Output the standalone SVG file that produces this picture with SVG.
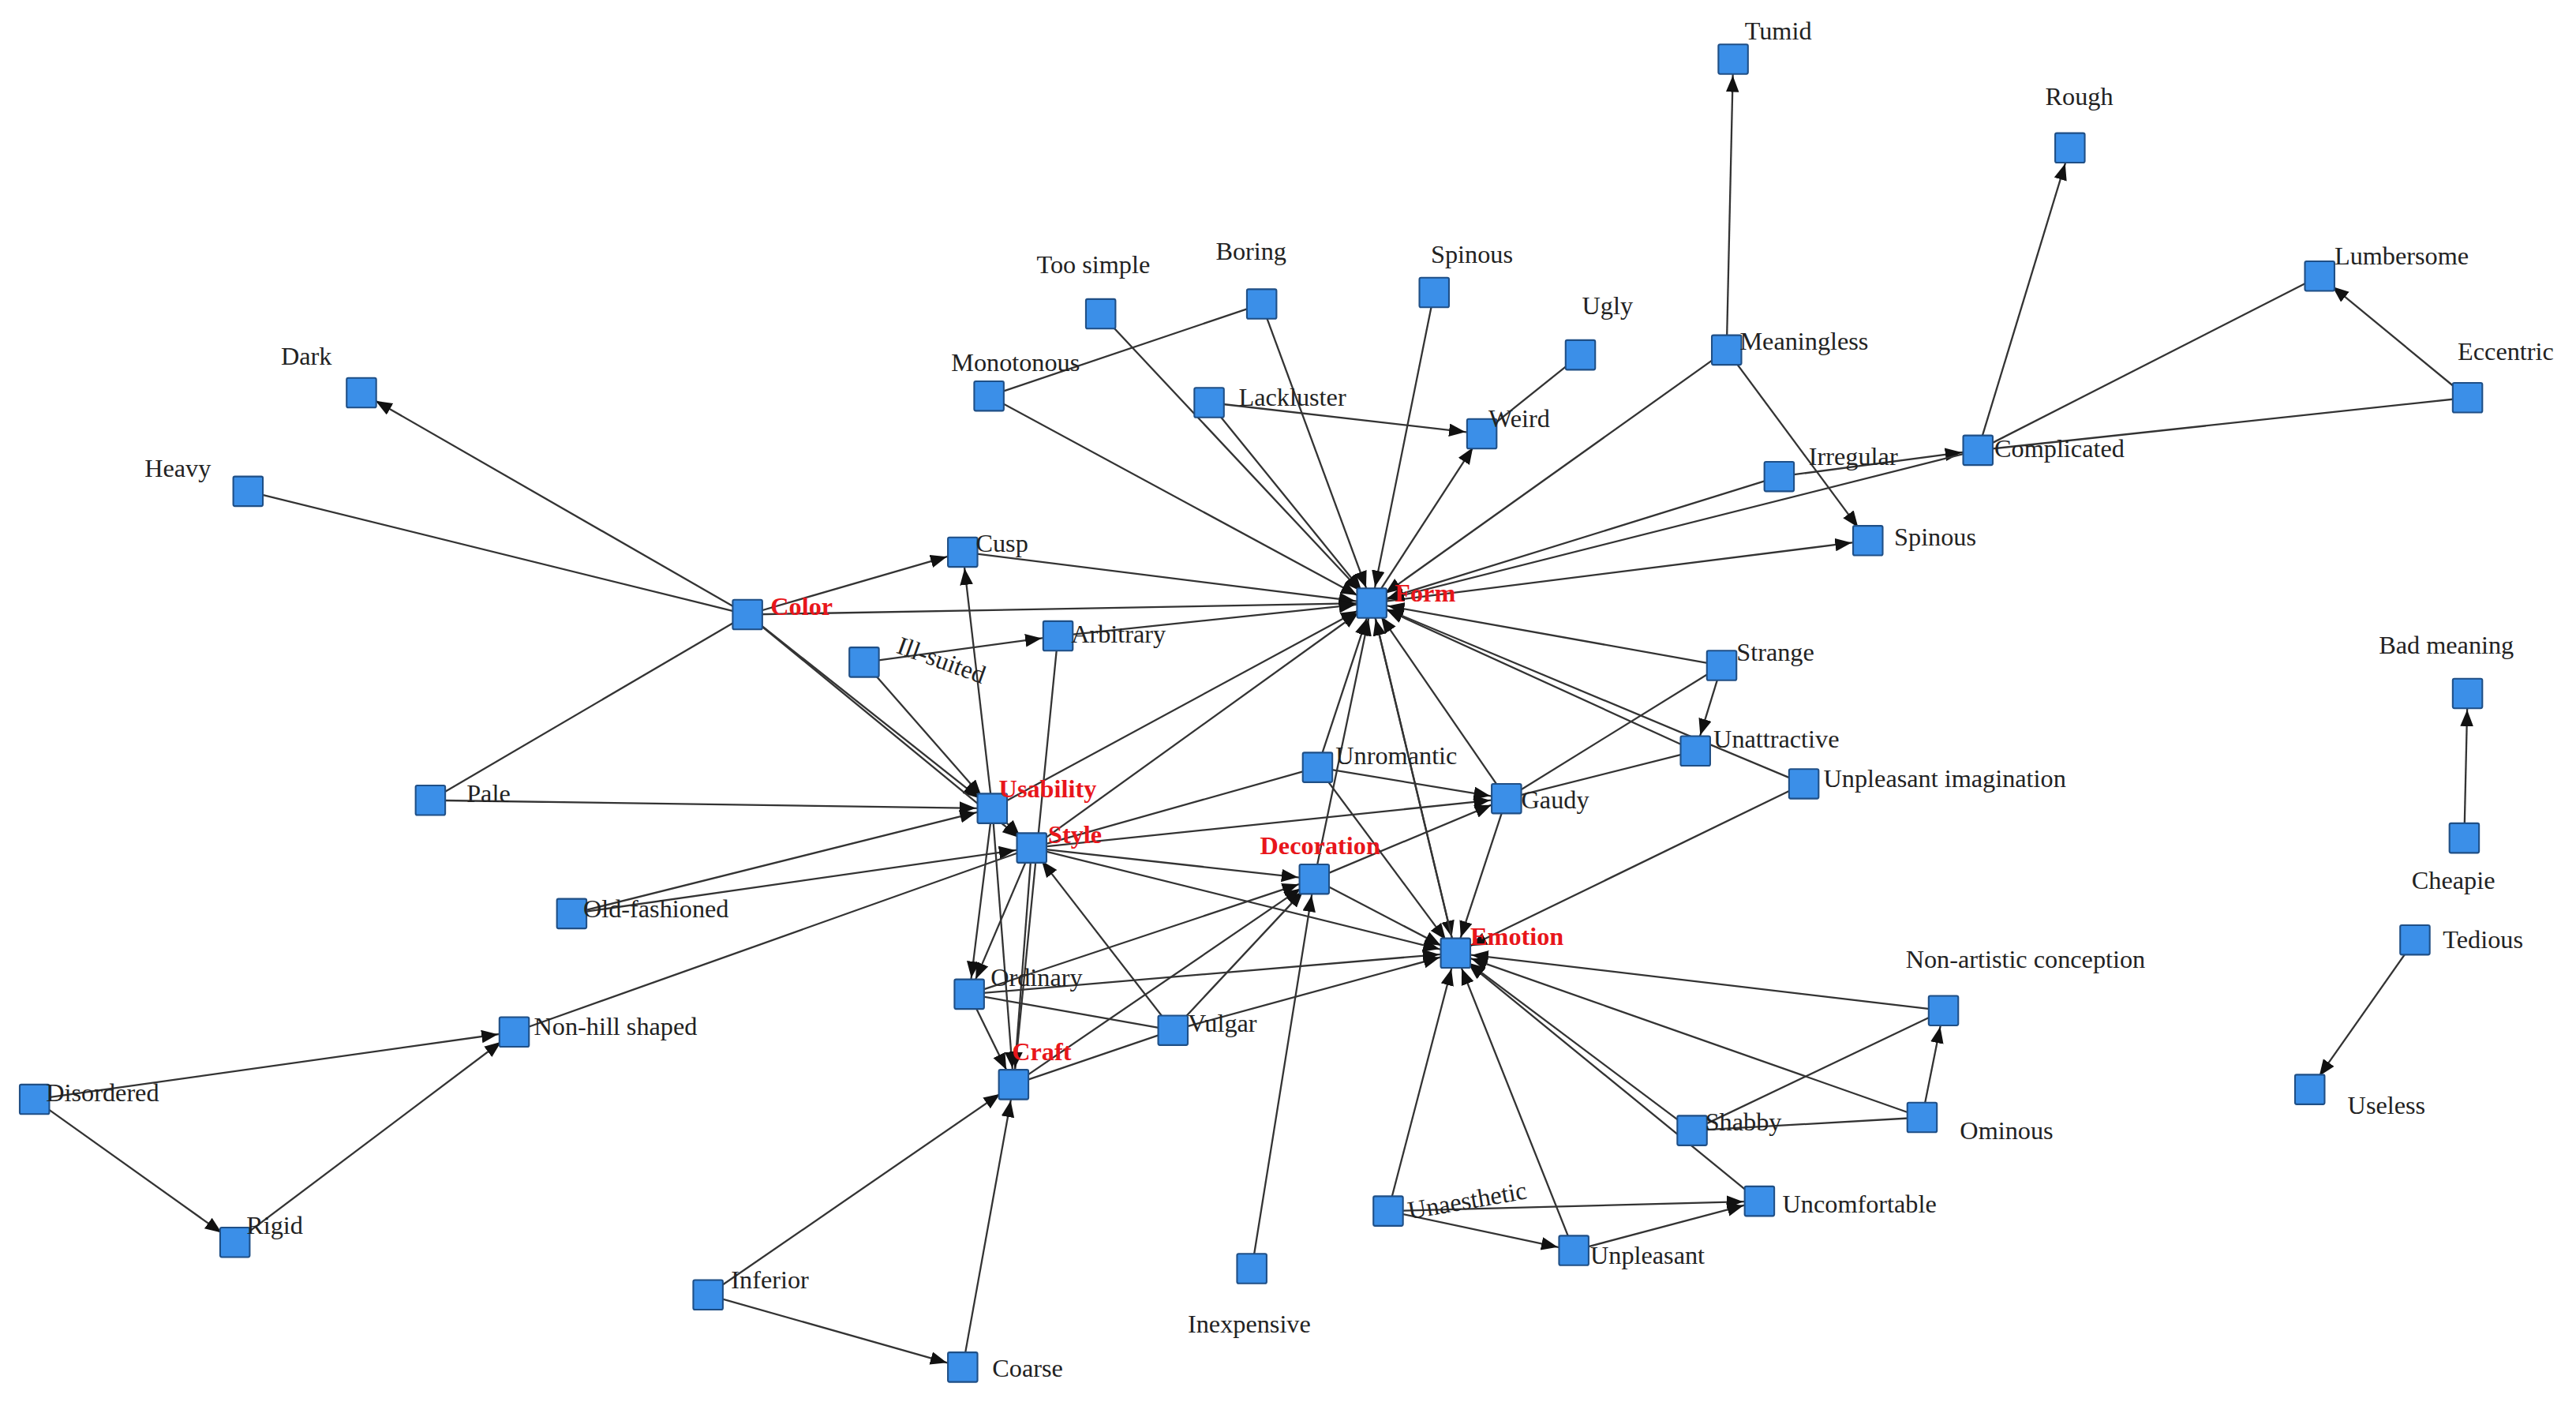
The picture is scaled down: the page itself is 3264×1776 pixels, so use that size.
<svg xmlns="http://www.w3.org/2000/svg" width="3264" height="1776" viewBox="0 0 3264 1776">
<style>
.n use{fill:#3b8fe8;stroke:#1f4f86;stroke-width:1}
text{font-family:"Liberation Serif",serif;font-size:15.5px;fill:#222}
text.r{fill:#e8161b;font-weight:bold}
#edges line{stroke:#333;stroke-width:1.1}
#edges line.a{marker-end:url(#ar)}
</style>
<defs>
<marker id="ar" markerUnits="userSpaceOnUse" markerWidth="22" markerHeight="10" refX="20" refY="4" orient="auto"><path d="M0,0 L10,4 L0,8 z" fill="#111"/></marker>
<rect id="sq" x="-9" y="-9" width="18" height="18" rx="1"/>
</defs>
<rect width="3264" height="1776" fill="#fff"/>
<g transform="scale(2.0816)">
<g id="edges">
<line class="a" x1="1051" y1="213" x2="1055" y2="36"/>
<line class="a" x1="1204" y1="274" x2="1260" y2="90"/>
<line class="a" x1="1502" y1="242" x2="1412" y2="168"/>
<line x1="1204" y1="274" x2="1412" y2="168"/>
<line x1="1204" y1="274" x2="1502" y2="242"/>
<line class="a" x1="1083" y1="290" x2="1204" y2="274"/>
<line class="a" x1="1051" y1="213" x2="1137" y2="329"/>
<line class="a" x1="1051" y1="213" x2="835" y2="367"/>
<line class="a" x1="835" y1="367" x2="1137" y2="329"/>
<line class="a" x1="1083" y1="290" x2="835" y2="367"/>
<line class="a" x1="1204" y1="274" x2="835" y2="367"/>
<line class="a" x1="670" y1="191" x2="835" y2="367"/>
<line class="a" x1="768" y1="185" x2="835" y2="367"/>
<line x1="768" y1="185" x2="602" y2="241"/>
<line class="a" x1="602" y1="241" x2="835" y2="367"/>
<line class="a" x1="736" y1="245" x2="902" y2="264"/>
<line class="a" x1="736" y1="245" x2="835" y2="367"/>
<line class="a" x1="873" y1="178" x2="835" y2="367"/>
<line x1="962" y1="216" x2="902" y2="264"/>
<line class="a" x1="835" y1="367" x2="902" y2="264"/>
<line class="a" x1="455" y1="374" x2="220" y2="239"/>
<line x1="151" y1="299" x2="455" y2="374"/>
<line x1="455" y1="374" x2="262" y2="487"/>
<line class="a" x1="455" y1="374" x2="586" y2="336"/>
<line class="a" x1="455" y1="374" x2="835" y2="367"/>
<line class="a" x1="455" y1="374" x2="604" y2="492"/>
<line class="a" x1="455" y1="374" x2="628" y2="516"/>
<line class="a" x1="586" y1="336" x2="835" y2="367"/>
<line class="a" x1="604" y1="492" x2="586" y2="336"/>
<line class="a" x1="644" y1="387" x2="835" y2="367"/>
<line class="a" x1="526" y1="403" x2="644" y2="387"/>
<line class="a" x1="526" y1="403" x2="604" y2="492"/>
<line x1="644" y1="387" x2="617" y2="660"/>
<line class="a" x1="262" y1="487" x2="604" y2="492"/>
<line class="a" x1="348" y1="556" x2="604" y2="492"/>
<line class="a" x1="348" y1="556" x2="628" y2="516"/>
<line x1="313" y1="628" x2="628" y2="516"/>
<line class="a" x1="21" y1="669" x2="313" y2="628"/>
<line class="a" x1="21" y1="669" x2="143" y2="756"/>
<line class="a" x1="143" y1="756" x2="313" y2="628"/>
<line class="a" x1="604" y1="492" x2="835" y2="367"/>
<line class="a" x1="628" y1="516" x2="835" y2="367"/>
<line class="a" x1="604" y1="492" x2="628" y2="516"/>
<line class="a" x1="604" y1="492" x2="590" y2="605"/>
<line class="a" x1="604" y1="492" x2="617" y2="660"/>
<line class="a" x1="628" y1="516" x2="617" y2="660"/>
<line class="a" x1="628" y1="516" x2="590" y2="605"/>
<line class="a" x1="628" y1="516" x2="800" y2="535"/>
<line class="a" x1="628" y1="516" x2="886" y2="580"/>
<line class="a" x1="628" y1="516" x2="917" y2="486"/>
<line x1="628" y1="516" x2="802" y2="467"/>
<line class="a" x1="714" y1="627" x2="628" y2="516"/>
<line class="a" x1="714" y1="627" x2="886" y2="580"/>
<line x1="617" y1="660" x2="714" y2="627"/>
<line class="a" x1="714" y1="627" x2="800" y2="535"/>
<line class="a" x1="590" y1="605" x2="800" y2="535"/>
<line class="a" x1="590" y1="605" x2="886" y2="580"/>
<line x1="590" y1="605" x2="714" y2="627"/>
<line class="a" x1="590" y1="605" x2="617" y2="660"/>
<line class="a" x1="431" y1="788" x2="617" y2="660"/>
<line class="a" x1="431" y1="788" x2="586" y2="832"/>
<line class="a" x1="586" y1="832" x2="617" y2="660"/>
<line class="a" x1="617" y1="660" x2="800" y2="535"/>
<line class="a" x1="802" y1="467" x2="835" y2="367"/>
<line class="a" x1="802" y1="467" x2="917" y2="486"/>
<line class="a" x1="802" y1="467" x2="886" y2="580"/>
<line class="a" x1="800" y1="535" x2="835" y2="367"/>
<line class="a" x1="800" y1="535" x2="917" y2="486"/>
<line class="a" x1="800" y1="535" x2="886" y2="580"/>
<line class="a" x1="917" y1="486" x2="835" y2="367"/>
<line class="a" x1="917" y1="486" x2="886" y2="580"/>
<line x1="917" y1="486" x2="1032" y2="457"/>
<line class="a" x1="835" y1="367" x2="886" y2="580"/>
<line class="a" x1="886" y1="580" x2="835" y2="367"/>
<line class="a" x1="1048" y1="405" x2="835" y2="367"/>
<line class="a" x1="1048" y1="405" x2="1032" y2="457"/>
<line x1="1048" y1="405" x2="917" y2="486"/>
<line class="a" x1="1032" y1="457" x2="835" y2="367"/>
<line class="a" x1="1098" y1="477" x2="835" y2="367"/>
<line class="a" x1="1098" y1="477" x2="886" y2="580"/>
<line class="a" x1="762" y1="772" x2="800" y2="535"/>
<line class="a" x1="1183" y1="615" x2="886" y2="580"/>
<line x1="1030" y1="688" x2="1183" y2="615"/>
<line class="a" x1="1170" y1="680" x2="1183" y2="615"/>
<line class="a" x1="1170" y1="680" x2="886" y2="580"/>
<line class="a" x1="1030" y1="688" x2="886" y2="580"/>
<line x1="1030" y1="688" x2="1170" y2="680"/>
<line class="a" x1="1071" y1="731" x2="886" y2="580"/>
<line class="a" x1="845" y1="737" x2="886" y2="580"/>
<line class="a" x1="845" y1="737" x2="1071" y2="731"/>
<line class="a" x1="845" y1="737" x2="958" y2="761"/>
<line class="a" x1="958" y1="761" x2="886" y2="580"/>
<line class="a" x1="958" y1="761" x2="1071" y2="731"/>
<line class="a" x1="1500" y1="510" x2="1502" y2="422"/>
<line class="a" x1="1470" y1="572" x2="1406" y2="663"/>
</g>
<g id="nTumid" class="n"><use href="#sq" x="1055" y="36"/><text x="1062" y="24">Tumid</text></g>
<g id="nRough" class="n"><use href="#sq" x="1260" y="90"/><text x="1245" y="64">Rough</text></g>
<g id="nTooSimple" class="n"><use href="#sq" x="670" y="191"/><text x="631" y="166">Too simple</text></g>
<g id="nBoring" class="n"><use href="#sq" x="768" y="185"/><text x="740" y="158">Boring</text></g>
<g id="nSpinous1" class="n"><use href="#sq" x="873" y="178"/><text x="871" y="160">Spinous</text></g>
<g id="nUgly" class="n"><use href="#sq" x="962" y="216"/><text x="963" y="191">Ugly</text></g>
<g id="nMeaningless" class="n"><use href="#sq" x="1051" y="213"/><text x="1059" y="213">Meaningless</text></g>
<g id="nLumbersome" class="n"><use href="#sq" x="1412" y="168"/><text x="1421" y="161">Lumbersome</text></g>
<g id="nEccentric" class="n"><use href="#sq" x="1502" y="242"/><text x="1496" y="219">Eccentric</text></g>
<g id="nDark" class="n"><use href="#sq" x="220" y="239"/><text x="171" y="222">Dark</text></g>
<g id="nHeavy" class="n"><use href="#sq" x="151" y="299"/><text x="88" y="290">Heavy</text></g>
<g id="nMonotonous" class="n"><use href="#sq" x="602" y="241"/><text x="579" y="226">Monotonous</text></g>
<g id="nLackluster" class="n"><use href="#sq" x="736" y="245"/><text x="754" y="247">Lackluster</text></g>
<g id="nWeird" class="n"><use href="#sq" x="902" y="264"/><text x="906" y="260">Weird</text></g>
<g id="nIrregular" class="n"><use href="#sq" x="1083" y="290"/><text x="1101" y="283">Irregular</text></g>
<g id="nComplicated" class="n"><use href="#sq" x="1204" y="274"/><text x="1214" y="278">Complicated</text></g>
<g id="nSpinous2" class="n"><use href="#sq" x="1137" y="329"/><text x="1153" y="332">Spinous</text></g>
<g id="nCusp" class="n"><use href="#sq" x="586" y="336"/><text x="594" y="336">Cusp</text></g>
<g id="nColor" class="n"><use href="#sq" x="455" y="374"/><text class="r" x="469" y="374">Color</text></g>
<g id="nForm" class="n"><use href="#sq" x="835" y="367"/><text class="r" x="849" y="366">Form</text></g>
<g id="nArbitrary" class="n"><use href="#sq" x="644" y="387"/><text x="652" y="391">Arbitrary</text></g>
<g id="nIllSuited" class="n"><use href="#sq" x="526" y="403"/><text x="545" y="397" transform="rotate(20 545 397)">Ill-suited</text></g>
<g id="nStrange" class="n"><use href="#sq" x="1048" y="405"/><text x="1057" y="402">Strange</text></g>
<g id="nBadMeaning" class="n"><use href="#sq" x="1502" y="422"/><text x="1448" y="398">Bad meaning</text></g>
<g id="nUnattractive" class="n"><use href="#sq" x="1032" y="457"/><text x="1043" y="455">Unattractive</text></g>
<g id="nUnromantic" class="n"><use href="#sq" x="802" y="467"/><text x="813" y="465">Unromantic</text></g>
<g id="nUnplImag" class="n"><use href="#sq" x="1098" y="477"/><text x="1110" y="479">Unpleasant imagination</text></g>
<g id="nPale" class="n"><use href="#sq" x="262" y="487"/><text x="284" y="488">Pale</text></g>
<g id="nGaudy" class="n"><use href="#sq" x="917" y="486"/><text x="926" y="492">Gaudy</text></g>
<g id="nUsability" class="n"><use href="#sq" x="604" y="492"/><text class="r" x="608" y="485">Usability</text></g>
<g id="nStyle" class="n"><use href="#sq" x="628" y="516"/><text class="r" x="638" y="513">Style</text></g>
<g id="nCheapie" class="n"><use href="#sq" x="1500" y="510"/><text x="1468" y="541">Cheapie</text></g>
<g id="nDecoration" class="n"><use href="#sq" x="800" y="535"/><text class="r" x="767" y="520">Decoration</text></g>
<g id="nOldFashioned" class="n"><use href="#sq" x="348" y="556"/><text x="355" y="558">Old-fashioned</text></g>
<g id="nEmotion" class="n"><use href="#sq" x="886" y="580"/><text class="r" x="895" y="575">Emotion</text></g>
<g id="nTedious" class="n"><use href="#sq" x="1470" y="572"/><text x="1487" y="577">Tedious</text></g>
<g id="nNonArtistic" class="n"><use href="#sq" x="1183" y="615"/><text x="1160" y="589">Non-artistic conception</text></g>
<g id="nOrdinary" class="n"><use href="#sq" x="590" y="605"/><text x="603" y="600">Ordinary</text></g>
<g id="nNonHill" class="n"><use href="#sq" x="313" y="628"/><text x="325" y="630">Non-hill shaped</text></g>
<g id="nVulgar" class="n"><use href="#sq" x="714" y="627"/><text x="723" y="628">Vulgar</text></g>
<g id="nCraft" class="n"><use href="#sq" x="617" y="660"/><text class="r" x="616" y="645">Craft</text></g>
<g id="nDisordered" class="n"><use href="#sq" x="21" y="669"/><text x="28" y="670">Disordered</text></g>
<g id="nUseless" class="n"><use href="#sq" x="1406" y="663"/><text x="1429" y="678">Useless</text></g>
<g id="nShabby" class="n"><use href="#sq" x="1030" y="688"/><text x="1038" y="688">Shabby</text></g>
<g id="nOminous" class="n"><use href="#sq" x="1170" y="680"/><text x="1193" y="693">Ominous</text></g>
<g id="nUncomfortable" class="n"><use href="#sq" x="1071" y="731"/><text x="1085" y="738">Uncomfortable</text></g>
<g id="nUnaesthetic" class="n"><use href="#sq" x="845" y="737"/><text x="858" y="742" transform="rotate(-10 858 742)">Unaesthetic</text></g>
<g id="nRigid" class="n"><use href="#sq" x="143" y="756"/><text x="150" y="751">Rigid</text></g>
<g id="nUnpleasant" class="n"><use href="#sq" x="958" y="761"/><text x="968" y="769">Unpleasant</text></g>
<g id="nInexpensive" class="n"><use href="#sq" x="762" y="772"/><text x="723" y="811">Inexpensive</text></g>
<g id="nInferior" class="n"><use href="#sq" x="431" y="788"/><text x="445" y="784">Inferior</text></g>
<g id="nCoarse" class="n"><use href="#sq" x="586" y="832"/><text x="604" y="838">Coarse</text></g>
</g>
</svg>
